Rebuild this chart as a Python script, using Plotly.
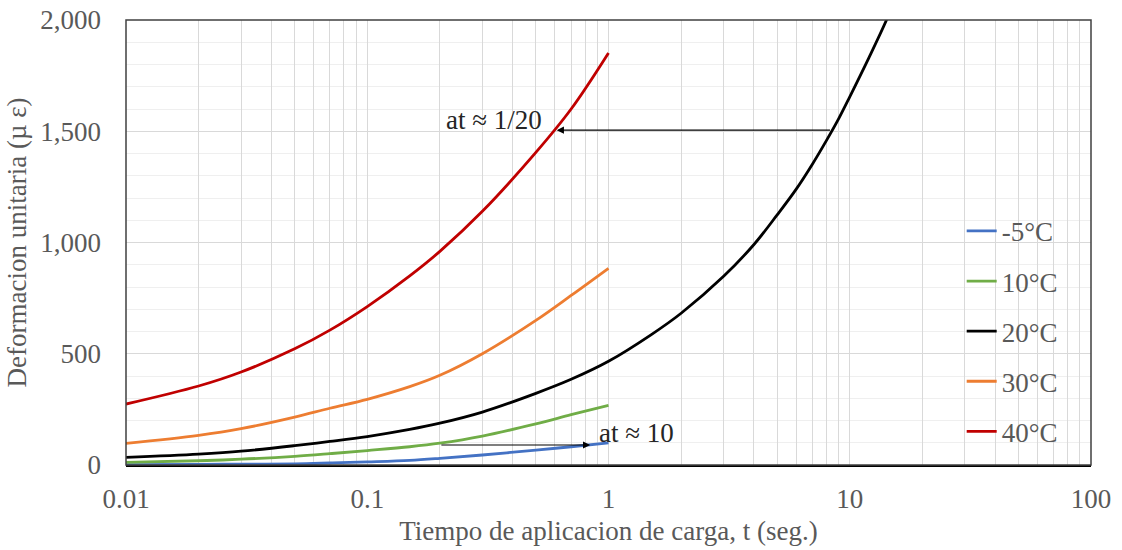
import numpy as np
import plotly.graph_objects as go

# ---- data ----
t_short = [0.01, 0.02, 0.03, 0.05, 0.07, 0.1, 0.15, 0.2, 0.3, 0.5, 0.7, 1.0]
e_m5 = [2, 3, 4, 5, 9, 14, 21, 30, 45, 67, 82, 99]
e_10 = [12, 19, 26, 39, 51, 65, 82, 98, 130, 185, 226, 268]
e_30 = [97, 133, 163, 215, 255, 295, 352, 403, 500, 650, 762, 884]
e_40 = [274, 355, 418, 522, 606, 712, 850, 960, 1140, 1405, 1600, 1852]

t_20 = [0.01, 0.02, 0.03, 0.05, 0.07, 0.1, 0.15, 0.2, 0.3, 0.5, 0.7, 1.0,
        1.5, 2, 3, 4, 5, 6, 7, 8, 9, 10, 12, 14.2, 16]
e_20 = [34, 49, 62, 87, 106, 128, 160, 188, 238, 322, 385, 466,
        585, 682, 848, 990, 1124, 1240, 1352, 1458, 1557, 1655, 1830, 2000, 2140]

series_names = ["-5°C", "10°C", "20°C", "30°C", "40°C"]
series_colors = ["#4472C4", "#70AD47", "#000000", "#ED7D31", "#C00000"]

x_tick_vals = [0.01, 0.1, 1, 10, 100]
x_tick_text = ["0.01", "0.1", "1", "10", "100"]

FONT = "Liberation Serif, Times New Roman, serif"
GREY = "#595959"
FS = 27

fig = go.Figure()
series = [(t_short, e_m5), (t_short, e_10), (t_20, e_20), (t_short, e_30), (t_short, e_40)]
for i, ((tx, ey), name, col) in enumerate(zip(series, series_names, series_colors)):
    fig.add_trace(go.Scatter(
        x=tx, y=ey, mode="lines", name=name, legendgroup=f"g{i}",
        line=dict(color=col, width=2.8, shape="spline", smoothing=1.0),
    ))

# all decade sub-ticks as gridlines, labels only on decades
all_vals, all_text = [], []
for d in range(-2, 2):
    for k in range(1, 10):
        v = k * 10.0 ** d
        all_vals.append(v)
        all_text.append(x_tick_text[d + 2] if k == 1 else "")
all_vals.append(x_tick_vals[-1])
all_text.append(x_tick_text[-1])

fig.update_xaxes(
    type="log", range=[-2, 2], automargin=False,
    tickvals=all_vals, ticktext=all_text, ticks="",
    ticklabelstandoff=9,
    showgrid=True, gridcolor="#D9D9D9", gridwidth=1,
    showline=True, linecolor="#000000", linewidth=1.5, mirror=False,
    tickfont=dict(family=FONT, size=FS, color=GREY),
    title=dict(text="Tiempo de aplicacion de carga, t (seg.)",
               font=dict(family=FONT, size=FS, color=GREY), standoff=8),
    zeroline=False,
)
fig.update_yaxes(
    range=[0, 2000], dtick=500, tickformat=",", ticks="", automargin=False,
    ticklabelstandoff=24,
    showgrid=True, gridcolor="#D9D9D9", gridwidth=1,
    minor=dict(dtick=100, showgrid=True, gridcolor="#EFEFEF", gridwidth=1),
    showline=False,
    tickfont=dict(family=FONT, size=FS, color=GREY),
    title=dict(text="Deformacion unitaria (µ ε)",
               font=dict(family=FONT, size=FS, color=GREY), standoff=5),
    zeroline=False,
)

# plot-area frame
fig.add_shape(type="rect", xref="paper", yref="paper", x0=0, y0=0, x1=1, y1=1,
              line=dict(color="#404040", width=1.5), layer="above")

# annotations with arrows (log axis -> annotation coords in log10)
fig.add_annotation(x=np.log10(0.61), y=1505, ax=np.log10(8.4), ay=1505,
                   xref="x", yref="y", axref="x", ayref="y",
                   showarrow=True, arrowhead=2, arrowsize=1.2, arrowwidth=1.2,
                   arrowcolor="#000000", text="")
fig.add_annotation(x=np.log10(0.54), y=1550, xref="x", yref="y", showarrow=False,
                   text="at ≈ 1/20", xanchor="right", yanchor="middle",
                   font=dict(family=FONT, size=FS, color="#262626"))
fig.add_annotation(x=np.log10(0.84), y=90, ax=np.log10(0.2), ay=90,
                   xref="x", yref="y", axref="x", ayref="y",
                   showarrow=True, arrowhead=2, arrowsize=1.2, arrowwidth=1.2,
                   arrowcolor="#000000", text="")
fig.add_annotation(x=np.log10(0.9), y=144, xref="x", yref="y", showarrow=False,
                   text="at ≈ 10", xanchor="left", yanchor="middle",
                   font=dict(family=FONT, size=FS, color="#262626"))

fig.update_layout(
    width=1122, height=550,
    margin=dict(l=126, r=31, t=20, b=85, autoexpand=False),
    paper_bgcolor="white", plot_bgcolor="white",
    showlegend=True,
    legend=dict(x=0.866, y=0.58, xanchor="left", yanchor="top",
                font=dict(family=FONT, size=FS, color=GREY),
                bgcolor="rgba(0,0,0,0)", tracegroupgap=12, itemwidth=30),
)

fig.write_html("out.html")
